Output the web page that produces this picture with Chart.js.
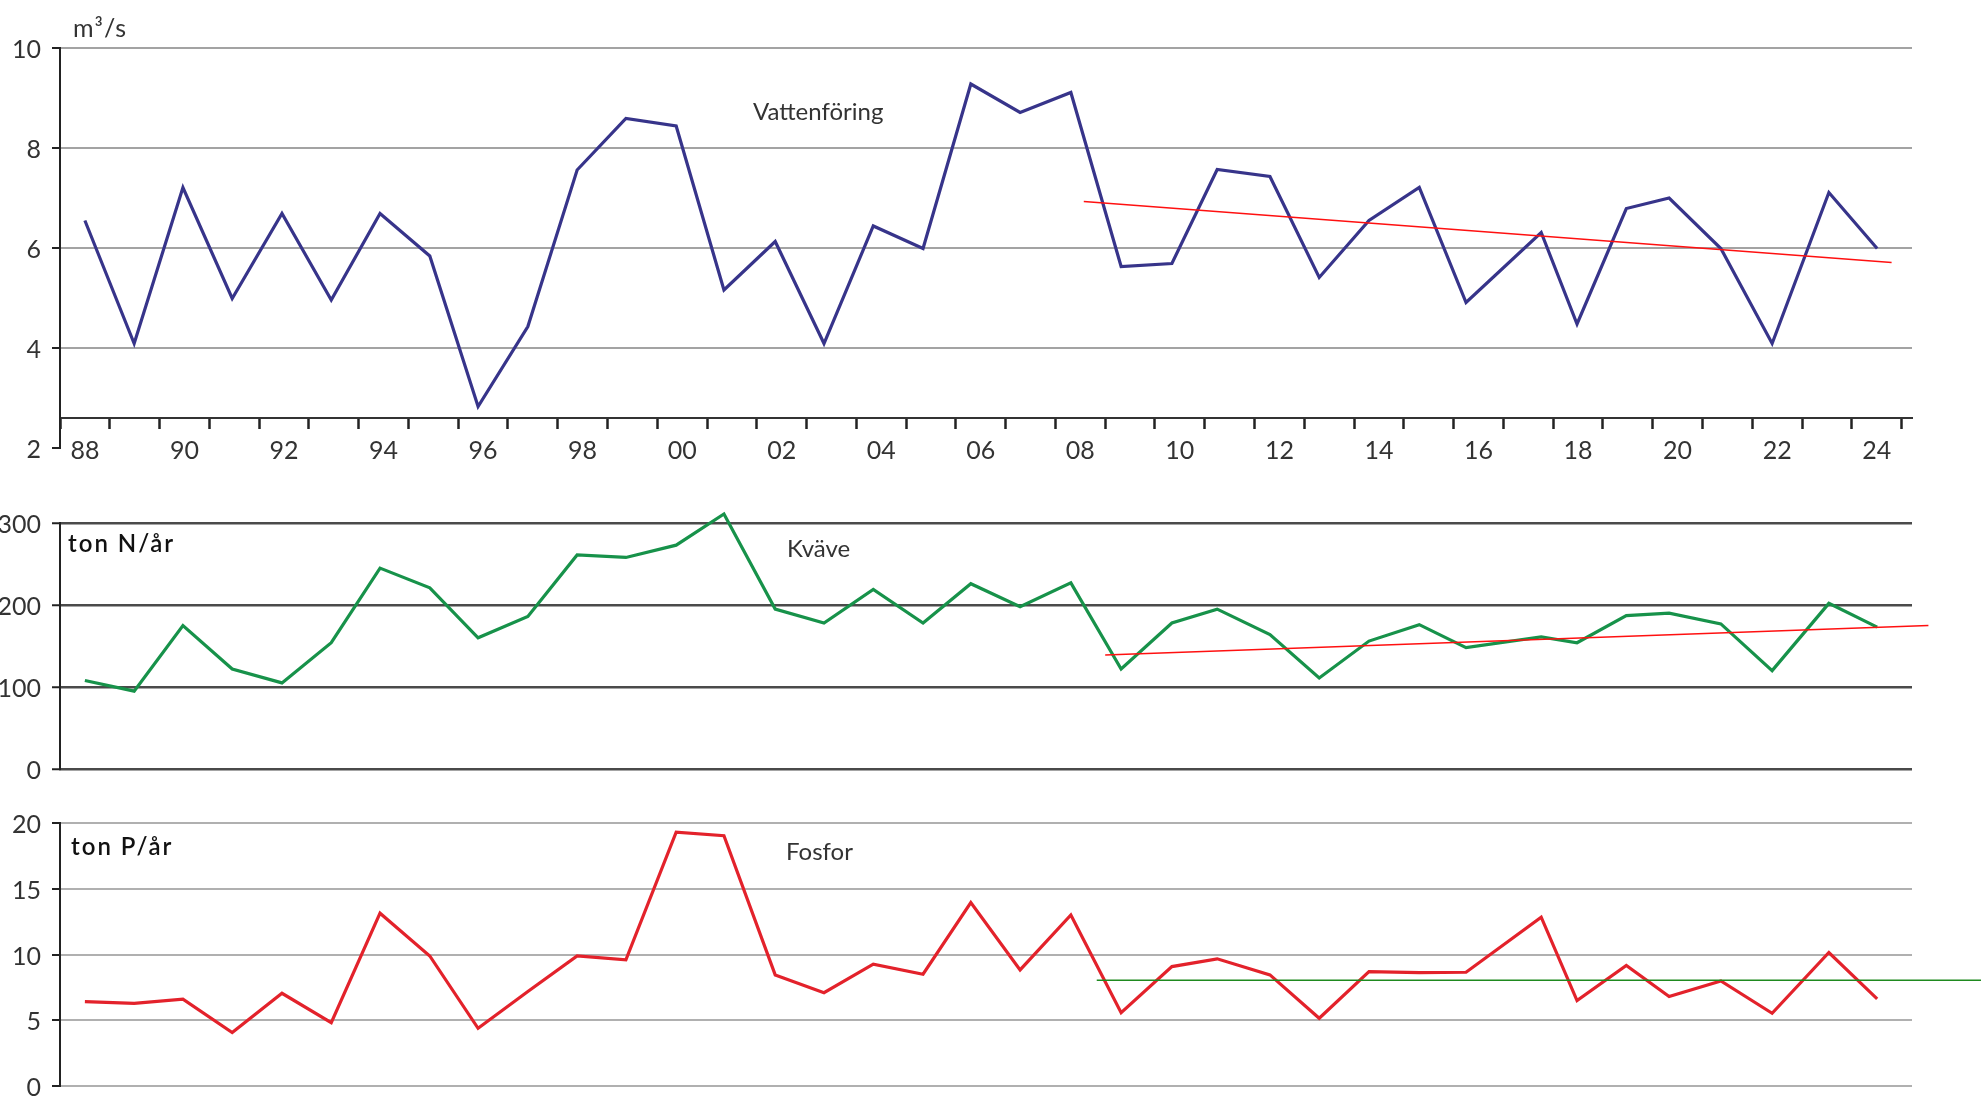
<!DOCTYPE html>
<html lang="sv">
<head>
<meta charset="utf-8">
<title>Vattenföring, kväve och fosfor 1988–2024</title>
<script src="https://cdn.jsdelivr.net/npm/chart.js@4/dist/chart.umd.min.js"></script>
<style>
  html, body { margin: 0; padding: 0; background: #fff; }
  body { width: 1981px; height: 1097px; position: relative; overflow: hidden; font-family: Lato, sans-serif; }
  canvas { position: absolute; left: 0; }
  .note { position: absolute; font-size: 24px; line-height: 1; color: #333; white-space: nowrap; }
  .unit { color: #111; font-weight: 600; letter-spacing: 2px; }
</style>
</head>
<body>
<canvas id="flowChart" width="1981" height="480" style="top:0"></canvas>
<canvas id="nChart" width="1981" height="300" style="top:480px"></canvas>
<canvas id="pChart" width="1981" height="317" style="top:780px"></canvas>

<div class="note" style="left:73px;top:15px;font-size:25px;letter-spacing:1px">m³/s</div>
<div class="note" style="left:753px;top:99px">Vattenföring</div>
<div class="note unit" style="left:68px;top:531px">ton N/år</div>
<div class="note" style="left:787px;top:536px">Kväve</div>
<div class="note unit" style="left:71px;top:834px">ton P/år</div>
<div class="note" style="left:786px;top:839px">Fosfor</div>

<script>
// Years of measurement
const years = [1988, 1989, 1990, 1991, 1992, 1993, 1994, 1995, 1996, 1997, 1998, 1999, 2000,
               2001, 2002, 2003, 2004, 2005, 2006, 2007, 2008, 2009, 2010, 2011, 2012, 2013,
               2014, 2015, 2016, 2017, 2018, 2019, 2020, 2021, 2022, 2023, 2024];

// Where each annual value sits on the time axis (decimal year)
const timePos = [1988.00, 1988.99, 1989.97, 1990.96, 1991.96, 1992.95, 1993.93, 1994.93, 1995.90,
                 1996.90, 1997.89, 1998.87, 1999.88, 2000.84, 2001.87, 2002.85, 2003.84, 2004.84,
                 2005.80, 2006.79, 2007.81, 2008.82, 2009.84, 2010.75, 2011.81, 2012.80, 2013.80,
                 2014.81, 2015.75, 2017.26, 2017.98, 2018.97, 2019.83, 2020.87, 2021.90, 2023.04,
                 2024.01];

// Annual mean water discharge, m³/s
const flow = [6.55, 4.09, 7.21, 4.99, 6.69, 4.96, 6.69, 5.84, 2.83, 4.43, 7.56, 8.59, 8.44,
              5.16, 6.13, 4.09, 6.44, 5.99, 9.28, 8.71, 9.11, 5.63, 5.69, 7.57, 7.43, 5.41,
              6.55, 7.21, 4.91, 6.31, 4.48, 6.79, 7.00, 5.99, 4.09, 7.11, 5.99];

// Nitrogen transport, ton N/år
const nitrogen = [108, 95, 175, 122, 105, 154, 245, 221, 160, 186, 261, 258, 273,
                  311, 195, 178, 219, 178, 226, 198, 227, 122, 178, 195, 164, 111,
                  156, 176, 148, 161, 154, 187, 190, 177, 120, 202, 173];

// Phosphorus transport, ton P/år
const phosphorus = [6.42, 6.29, 6.60, 4.06, 7.05, 4.82, 13.14, 9.89, 4.39, 7.18, 9.89, 9.59, 19.30,
                    19.03, 8.45, 7.10, 9.26, 8.50, 13.95, 8.83, 13.01, 5.58, 9.08, 9.67, 8.45, 5.15,
                    8.70, 8.62, 8.65, 12.84, 6.49, 9.16, 6.80, 7.99, 5.53, 10.15, 6.62];

// Trend lines from 2008 onwards (start and end points)
const flowTrendX = [2008.07, 2024.3];
const flowTrendY = [6.93, 5.71];
const nTrendX = [2008.5, 2025.04];
const nTrendY = [139, 175];
const pTrendX = [2008.33, 2026.2];
const pTrendY = [8.04, 8.04];

// Y-axis ticks
const flowTicks = { min: 2, max: 10, step: 2 };
const nTicks = { min: 0, max: 300, step: 100 };
const pTicks = { min: 0, max: 20, step: 5 };

// ---------------------------------------------------------------------------
const FONT = { family: 'Lato, sans-serif', size: 25 };
const TEXT = '#333';
const X_MIN = years[0] - 0.5;
const X_MAX = 2024.71;            // a little room to the right of the last year
const yearEdges = years.map(y => y - 0.5).concat([years[years.length - 1] + 0.5]);

const toPoints = (xs, ys) => xs.map((x, i) => ({ x: x, y: ys[i] }));

function xScale(show, axisAt) {
  return {
    type: 'linear',
    min: X_MIN,
    max: X_MAX,
    display: show,
    position: show ? { y: axisAt } : 'bottom',
    afterBuildTicks: s => { s.ticks = yearEdges.map(v => ({ value: v })); },
    afterFit: s => { s.height = 0; s.paddingLeft = 0; s.paddingRight = 0; },
    grid: { drawOnChartArea: false, drawTicks: true, tickLength: 10, tickWidth: 2.5, tickColor: '#222' },
    border: { display: true, color: '#333', width: 2 },
    ticks: {
      autoSkip: false,
      maxRotation: 0,
      minRotation: 0,
      labelOffset: 24.9,
      padding: 8,
      font: FONT,
      color: TEXT,
      callback: v => {
        const yr = Math.round(v + 0.5);
        return (yr % 2 === 0 && yr <= years[years.length - 1]) ? String(yr).slice(2) : '';
      }
    }
  };
}

function yScale(t, gridColor, gridWidth, hideMinLine) {
  return {
    type: 'linear',
    min: t.min,
    max: t.max,
    afterFit: s => { s.width = 60; s.paddingTop = 0; s.paddingBottom = 0; },
    ticks: { stepSize: t.step, padding: 11, labelOffset: 2, font: FONT, color: TEXT },
    grid: {
      color: ctx => (hideMinLine && ctx.tick && ctx.tick.value === t.min) ? 'rgba(0,0,0,0)' : gridColor,
      lineWidth: gridWidth,
      tickLength: 8,
      tickWidth: 2,
      tickColor: '#222'
    },
    border: { color: '#222', width: 2 }
  };
}

function makeChart(id, series, color, trend, trendColor, trendWidth, ticks, gridColor, gridWidth, padTop, padBottom, showX, axisAt) {
  return new Chart(document.getElementById(id), {
    type: 'line',
    data: {
      datasets: [
        {
          data: trend,
          borderColor: trendColor,
          borderWidth: trendWidth,
          pointRadius: 0,
          clip: false
        },
        {
          data: toPoints(timePos, series),
          borderColor: color,
          borderWidth: 3.2,
          pointRadius: 0,
          tension: 0,
          clip: false
        }
      ]
    },
    options: {
      responsive: false,
      animation: false,
      events: [],
      layout: { padding: { left: 0, right: 69, top: padTop, bottom: padBottom } },
      plugins: { legend: { display: false }, tooltip: { enabled: false }, title: { display: false } },
      scales: {
        x: xScale(showX, axisAt),
        y: yScale(ticks, gridColor, gridWidth, showX)
      }
    }
  });
}

makeChart('flowChart', flow, '#37348a', toPoints(flowTrendX, flowTrendY), '#ff1010', 1.3,
          flowTicks, '#a3a3a3', 2, 48, 32, true, 2.6);
makeChart('nChart', nitrogen, '#17924a', toPoints(nTrendX, nTrendY), '#ff1010', 1.3,
          nTicks, '#4a4a4a', 2.5, 43, 11, false, 0);
makeChart('pChart', phosphorus, '#e3222b', toPoints(pTrendX, pTrendY), '#1f8a1f', 1.6,
          pTicks, '#b0b0b0', 2, 43, 11, false, 0);
</script>
</body>
</html>
